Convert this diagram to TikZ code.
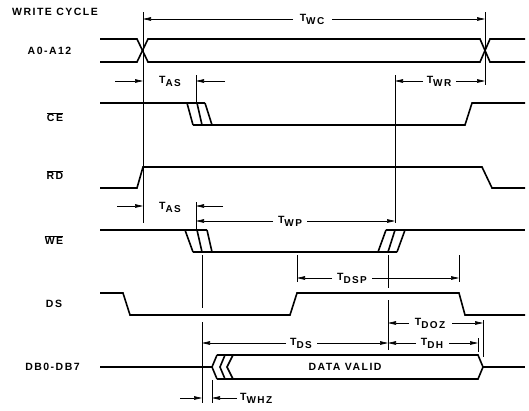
\documentclass[tikz,border=0pt]{standalone}
\usepackage{fontspec}
\setmainfont{Liberation Sans}[LetterSpace=14]
\usetikzlibrary{arrows.meta}
\newcommand\Tsub[1]{T\raisebox{-3pt}{\fontsize{10}{10}\selectfont #1}}
\newcommand\ovl[1]{$\overline{\hbox{#1}}$}
\begin{document}
\begin{tikzpicture}[x=1pt,y=-1pt,
  sig/.style={line width=1.6pt, line join=miter},
  ref/.style={line width=0.6pt},
  dim/.style={line width=0.6pt, -{Triangle[length=8pt,width=3.6pt]}},
  lbl/.style={font=\fontsize{10.5}{10.5}\selectfont\bfseries, inner sep=0pt}]
\useasboundingbox (0,0) rectangle (529,410);
\fill[white] (0,0) rectangle (529,410);

% ---- labels ----
\node[lbl, anchor=west] (title) at (12,12) {WRITE CYCLE};
\node[lbl] (la) at (49.5,51) {A0-A12};
\node[lbl] (lce) at (55,117) {\ovl{CE}};
\node[lbl] (lrd) at (55,175) {\ovl{RD}};
\node[lbl] (lwe) at (54,240) {\ovl{WE}};
\node[lbl] (lds) at (54,304) {DS};
\node[lbl] (ldb) at (52.5,367) {DB0-DB7};
\node[lbl] (dv) at (345,367) {DATA VALID};

% ---- reference verticals ----
\draw[ref] (143,12) -- (143,223);
\draw[ref] (485,12) -- (485,85);
\draw[ref] (196,75) -- (196,103);
\draw[ref] (395,75) -- (395,223);
\draw[ref] (196,202) -- (196,230);
\draw[ref] (202,255) -- (202,308);
\draw[ref] (202,322) -- (202,403);
\draw[ref] (297,255) -- (297,282);
\draw[ref] (388,255) -- (388,288);
\draw[ref] (388,300) -- (388,350);
\draw[ref] (459,255) -- (459,282);
\draw[ref] (483,320) -- (483,357);
\draw[ref] (478,338) -- (478,352);
\draw[ref] (212,380) -- (212,403);

% ---- timing labels and dimension arrows ----
\node[lbl] (twc) at (312,19) {\Tsub{WC}};
\draw[dim] (293,19) -- (143,19);
\draw[dim] (332,19) -- (485,19);

\node[lbl] (tas1) at (170,81) {\Tsub{AS}};
\draw[dim] (115,81) -- (143,81);
\draw[dim] (225,81) -- (196,81);

\node[lbl] (twr) at (439,81) {\Tsub{WR}};
\draw[dim] (423,81) -- (395,81);
\draw[dim] (456,81) -- (485,81);

\node[lbl] (tas2) at (170,207) {\Tsub{AS}};
\draw[dim] (117,206) -- (143,206);
\draw[dim] (223,206) -- (196,206);

\node[lbl] (twp) at (290,221) {\Tsub{WP}};
\draw[dim] (273,221) -- (196,221);
\draw[dim] (307,221) -- (395,221);

\node[lbl] (tdsp) at (352,278) {\Tsub{DSP}};
\draw[dim] (332,278) -- (297,278);
\draw[dim] (372,278) -- (459,278);

\node[lbl] (tdoz) at (430,323) {\Tsub{DOZ}};
\draw[dim] (409,323) -- (388,323);
\draw[dim] (452,323) -- (483,323);

\node[lbl] (tds) at (301,343) {\Tsub{DS}};
\draw[dim] (286,343) -- (202,343);
\draw[dim] (317,343) -- (388,343);

\node[lbl] (tdh) at (432,343) {\Tsub{DH}};
\draw[dim] (416,343) -- (388,343);
\draw[dim] (449,343) -- (478,343);

\node[lbl, anchor=west] (twhz) at (240,398) {\Tsub{WHZ}};
\draw[dim] (180,398) -- (202,398);
\draw[dim] (237,398) -- (212,398);

% ---- A0-A12 ----
\draw[sig] (100,39) -- (137,39) -- (148,62) -- (480,62) -- (490,39) -- (525,39);
\draw[sig] (100,62) -- (137,62) -- (148,39) -- (480,39) -- (490,62) -- (525,62);

% ---- CE ----
\draw[sig] (100,103) -- (205,103);
\draw[sig] (187,103) -- (193,125);
\draw[sig] (197,103) -- (202,125);
\draw[sig] (205,103) -- (212,125);
\draw[sig] (193,125) -- (465,125) -- (472,103) -- (525,103);

% ---- RD ----
\draw[sig] (100,188) -- (137,188) -- (143,167) -- (482,167) -- (492,188) -- (525,188);

% ---- WE ----
\draw[sig] (100,230) -- (207,230);
\draw[sig] (185,230) -- (193,252);
\draw[sig] (197,230) -- (202,252);
\draw[sig] (207,230) -- (212,252);
\draw[sig] (193,252) -- (397,252);
\draw[sig] (378,252) -- (386,230);
\draw[sig] (388,252) -- (395,230);
\draw[sig] (397,252) -- (405,230);
\draw[sig] (386,230) -- (525,230);

% ---- DS ----
\draw[sig] (100,293) -- (123,293) -- (130,315) -- (290,315) -- (297,293) -- (459,293) -- (465,315) -- (525,315);

% ---- DB0-DB7 ----
\draw[sig] (100,367) -- (212,367);
\draw[sig] (217,355) -- (212,367) -- (217,379);
\draw[sig] (225,355) -- (220,367) -- (225,379);
\draw[sig] (233,355) -- (227,367) -- (233,379);
\draw[sig] (217,355) -- (478,355) -- (483,367) -- (478,379) -- (217,379);
\draw[sig] (483,367) -- (525,367);
\end{tikzpicture}
\end{document}
